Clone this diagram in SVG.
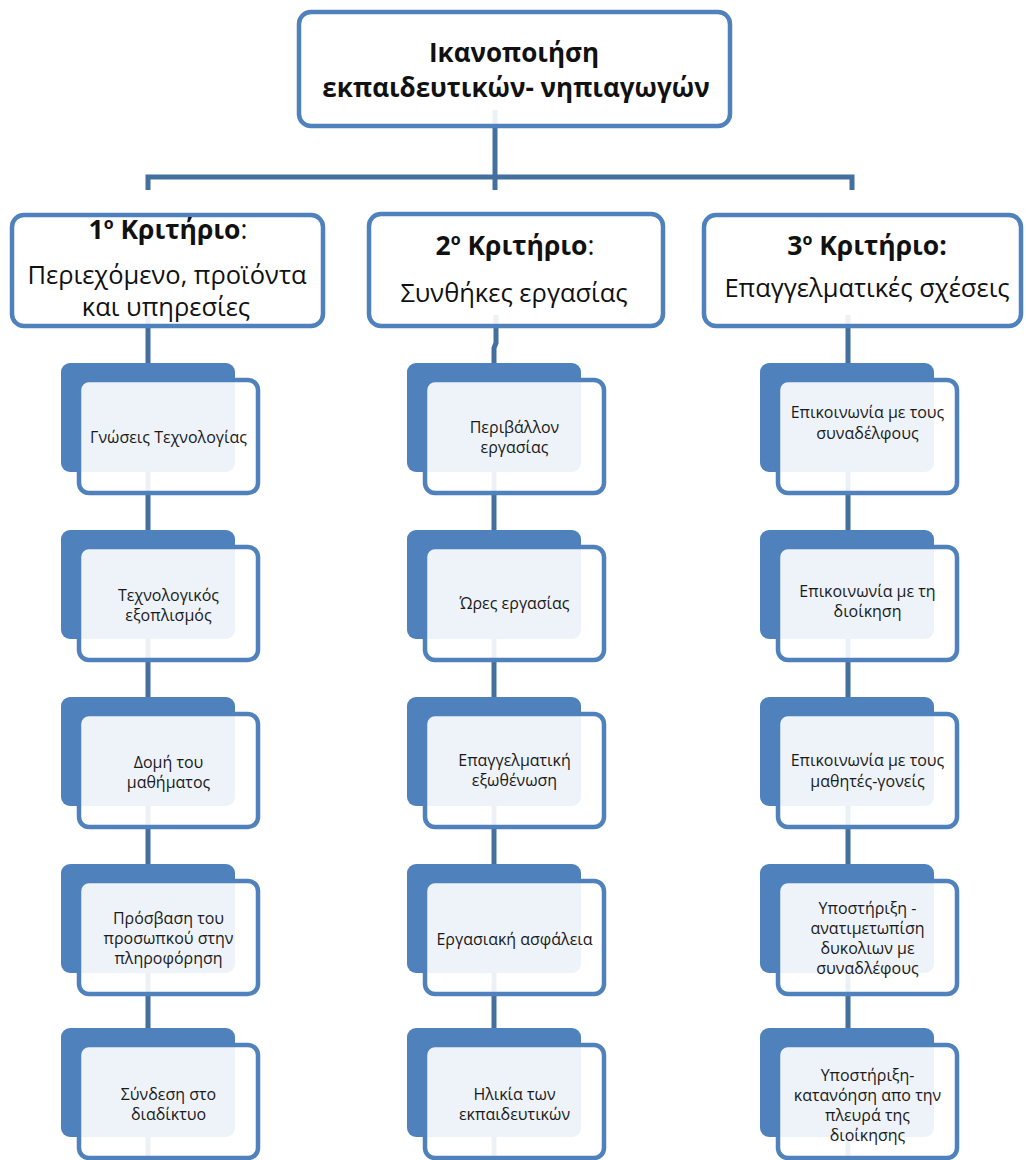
<svg xmlns="http://www.w3.org/2000/svg" width="1026" height="1160" viewBox="0 0 1026 1160">
<style>
.conn{fill:none;stroke:#44709F;stroke-width:5;stroke-linejoin:miter}
.main{fill:#FFFFFF;fill-opacity:0.9;stroke:#4F81BD;stroke-width:4.5}
.back{fill:#4F81BD}
.front{fill:#FFFFFF;fill-opacity:0.9;stroke:#4F81BD;stroke-width:4.5}
.t{font-family:"Open Sans","Noto Sans","DejaVu Sans",sans-serif;fill:#111111;text-anchor:middle}
.title{font-size:26px;font-weight:bold}
.hb{font-size:26.5px;font-weight:bold}
.hr{font-size:25.5px}
.c{font-size:16px;fill:#1a1a1a}
</style>
<rect width="1026" height="1160" fill="#FFFFFF"/>
<g id="connectors">
<path class="conn" d="M495 110 V190"/>
<path class="conn" d="M148 190 V177 H852 V190"/>
<path class="conn" d="M148 315 V1160"/>
<path class="conn" d="M496 315 V343 L494 348 V1160"/>
<path class="conn" d="M848 315 V1160"/>
</g>
<g id="root">
<rect class="main" x="299" y="12" width="431" height="114" rx="12"/>
<text class="t title" x="514" y="62">Ικανοποιήση</text>
<text class="t title" x="516" y="97">εκπαιδευτικών- νηπιαγωγών</text>
</g>
<g id="crit1">
<rect class="main" x="12" y="215" width="311" height="111" rx="12"/>
<text class="t hb" x="168" y="239">1<tspan font-size="16" dy="-10">ο</tspan><tspan dy="10"> Κριτήριο</tspan><tspan font-weight="normal">:</tspan></text>
<text class="t hr" x="167" y="284">Περιεχόμενο, προϊόντα</text>
<text class="t hr" x="166" y="316">και υπηρεσίες</text>
</g>
<g id="crit2">
<rect class="main" x="369" y="214" width="294" height="112" rx="12"/>
<text class="t hb" x="515" y="255">2<tspan font-size="16" dy="-10">ο</tspan><tspan dy="10"> Κριτήριο</tspan><tspan font-weight="normal">:</tspan></text>
<text class="t hr" x="514" y="302">Συνθήκες εργασίας</text>
</g>
<g id="crit3">
<rect class="main" x="704" y="215" width="317" height="111" rx="12"/>
<text class="t hb" x="867" y="255">3<tspan font-size="16" dy="-10">ο</tspan><tspan dy="10"> Κριτήριο:</tspan></text>
<text class="t hr" x="867" y="297">Επαγγελματικές σχέσεις</text>
</g>

<!-- Column 1 -->
<g id="c1r1">
<rect class="back" x="61" y="363" width="174" height="109" rx="9"/>
<rect class="front" x="79" y="380" width="179" height="113" rx="10"/>
<text class="t c" x="168.5" y="443">Γνώσεις Τεχνολογίας</text>
</g>
<g id="c1r2">
<rect class="back" x="61" y="530" width="174" height="109" rx="9"/>
<rect class="front" x="79" y="547" width="179" height="113" rx="10"/>
<text class="t c" x="168.5" y="601">Τεχνολογικός</text>
<text class="t c" x="168.5" y="621">εξοπλισμός</text>
</g>
<g id="c1r3">
<rect class="back" x="61" y="697" width="174" height="109" rx="9"/>
<rect class="front" x="79" y="714" width="179" height="113" rx="10"/>
<text class="t c" x="168.5" y="768">Δομή του</text>
<text class="t c" x="168.5" y="788">μαθήματος</text>
</g>
<g id="c1r4">
<rect class="back" x="61" y="864" width="174" height="109" rx="9"/>
<rect class="front" x="79" y="881" width="179" height="113" rx="10"/>
<text class="t c" x="168.5" y="924">Πρόσβαση του</text>
<text class="t c" x="168.5" y="944">προσωπκού στην</text>
<text class="t c" x="168.5" y="964">πληροφόρηση</text>
</g>
<g id="c1r5">
<rect class="back" x="61" y="1028" width="174" height="109" rx="9"/>
<rect class="front" x="79" y="1045" width="179" height="113" rx="10"/>
<text class="t c" x="168.5" y="1100">Σύνδεση στο</text>
<text class="t c" x="168.5" y="1120">διαδίκτυο</text>
</g>

<!-- Column 2 -->
<g id="c2r1">
<rect class="back" x="407" y="363" width="174" height="109" rx="9"/>
<rect class="front" x="425" y="380" width="179" height="113" rx="10"/>
<text class="t c" x="514.5" y="433">Περιβάλλον</text>
<text class="t c" x="514.5" y="453">εργασίας</text>
</g>
<g id="c2r2">
<rect class="back" x="407" y="530" width="174" height="109" rx="9"/>
<rect class="front" x="425" y="547" width="179" height="113" rx="10"/>
<text class="t c" x="514.5" y="609">Ώρες εργασίας</text>
</g>
<g id="c2r3">
<rect class="back" x="407" y="697" width="174" height="109" rx="9"/>
<rect class="front" x="425" y="714" width="179" height="113" rx="10"/>
<text class="t c" x="514.5" y="766">Επαγγελματική</text>
<text class="t c" x="514.5" y="786">εξωθένωση</text>
</g>
<g id="c2r4">
<rect class="back" x="407" y="864" width="174" height="109" rx="9"/>
<rect class="front" x="425" y="881" width="179" height="113" rx="10"/>
<text class="t c" x="514.5" y="945">Εργασιακή ασφάλεια</text>
</g>
<g id="c2r5">
<rect class="back" x="407" y="1028" width="174" height="109" rx="9"/>
<rect class="front" x="425" y="1045" width="179" height="113" rx="10"/>
<text class="t c" x="514.5" y="1100">Ηλικία των</text>
<text class="t c" x="514.5" y="1120">εκπαιδευτικών</text>
</g>

<!-- Column 3 -->
<g id="c3r1">
<rect class="back" x="760" y="363" width="174" height="109" rx="9"/>
<rect class="front" x="778" y="380" width="179" height="113" rx="10"/>
<text class="t c" x="867.5" y="418">Επικοινωνία με τους</text>
<text class="t c" x="867.5" y="439">συναδέλφους</text>
</g>
<g id="c3r2">
<rect class="back" x="760" y="530" width="174" height="109" rx="9"/>
<rect class="front" x="778" y="547" width="179" height="113" rx="10"/>
<text class="t c" x="867.5" y="597">Επικοινωνία με τη</text>
<text class="t c" x="867.5" y="617">διοίκηση</text>
</g>
<g id="c3r3">
<rect class="back" x="760" y="697" width="174" height="109" rx="9"/>
<rect class="front" x="778" y="714" width="179" height="113" rx="10"/>
<text class="t c" x="867.5" y="766">Επικοινωνία με τους</text>
<text class="t c" x="867.5" y="787">μαθητές-γονείς</text>
</g>
<g id="c3r4">
<rect class="back" x="760" y="864" width="174" height="109" rx="9"/>
<rect class="front" x="778" y="881" width="179" height="113" rx="10"/>
<text class="t c" x="867.5" y="914">Υποστήριξη -</text>
<text class="t c" x="867.5" y="934">ανατιμετωπίση</text>
<text class="t c" x="867.5" y="954">δυκολιων με</text>
<text class="t c" x="867.5" y="974">συναδλέφους</text>
</g>
<g id="c3r5">
<rect class="back" x="760" y="1028" width="174" height="109" rx="9"/>
<rect class="front" x="778" y="1045" width="179" height="113" rx="10"/>
<text class="t c" x="867.5" y="1081">Υποστήριξη-</text>
<text class="t c" x="867.5" y="1101">κατανόηση απο την</text>
<text class="t c" x="867.5" y="1121">πλευρά της</text>
<text class="t c" x="867.5" y="1141">διοίκησης</text>
</g>
</svg>
